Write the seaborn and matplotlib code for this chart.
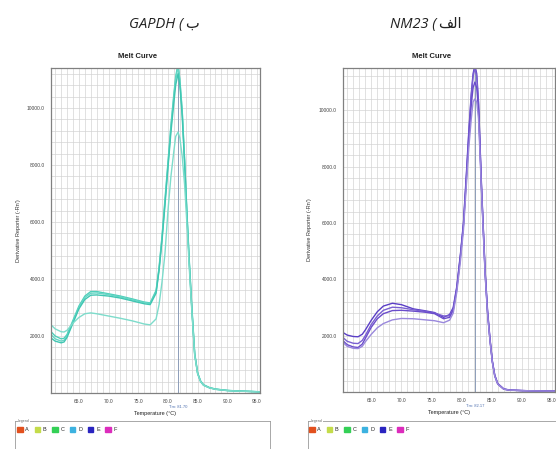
import matplotlib
matplotlib.use("Agg")
import matplotlib.pyplot as plt
import matplotlib.ticker as mticker
import matplotlib.transforms as mtransforms
from matplotlib.patches import Patch
import pandas as pd
import seaborn as sns

# GAPDH melt curve (left panel)
gapdh_temp = [60.3, 61, 62, 62.5, 63, 64, 65, 66, 67, 68, 70, 72, 74, 76, 77, 78, 78.5, 79, 79.5,
              80, 80.5, 81, 81.3, 81.7, 82.0, 82.4, 82.8, 83.2, 83.6, 84, 84.5, 85, 85.5, 86, 87,
              88, 90, 92, 95.5]
gapdh_w1 = [2150, 2000, 1900, 1920, 2050, 2550, 3050, 3400, 3560, 3560, 3480, 3400, 3300, 3190,
            3160, 3600, 4400, 5500, 6800, 8100, 9400, 10500, 11100, 11550, 11000, 9900, 8200,
            6300, 4600, 3100, 1400, 700, 420, 290, 190, 140, 90, 70, 40]
gapdh_w2 = [2050, 1900, 1820, 1850, 2000, 2500, 3000, 3350, 3500, 3510, 3450, 3370, 3270, 3170,
            3140, 3550, 4350, 5450, 6700, 8000, 9300, 10400, 11000, 11450, 10950, 9850, 8150,
            6250, 4550, 3050, 1380, 690, 410, 280, 185, 135, 90, 70, 45]
gapdh_w3 = [1930, 1820, 1760, 1790, 1950, 2450, 2950, 3280, 3430, 3440, 3400, 3330, 3230, 3130,
            3100, 3500, 4300, 5350, 6600, 7900, 9150, 10200, 10800, 11200, 10800, 9700, 8050,
            6200, 4500, 3000, 1350, 680, 400, 270, 180, 130, 85, 65, 40]
gapdh_w4 = [2390, 2250, 2150, 2140, 2200, 2450, 2650, 2780, 2810, 2780, 2700, 2620, 2530, 2420,
            2390, 2600, 3100, 3900, 4900, 6400, 7600, 8500, 9000, 9150, 8950, 8300, 7300,
            5900, 4350, 2950, 1330, 670, 400, 270, 180, 130, 85, 65, 40]

# NM23 melt curve (right panel)
nm23_temp = [60.3, 61, 62, 62.8, 63.5, 64, 65, 66, 67, 68.5, 70, 72, 74, 75.5, 77, 78, 78.6,
             79.2, 79.8, 80.3, 80.8, 81.2, 81.6, 81.9, 82.2, 82.5, 82.8, 83.3, 83.9, 84.3, 84.7,
             85.1, 85.5, 86, 87, 88, 90, 92, 95.5]
nm23_w1 = [2110, 2020, 1970, 1960, 2050, 2200, 2550, 2850, 3050, 3150, 3100, 2950, 2880, 2820,
           2650, 2750, 3000, 3750, 4900, 6000, 7800, 9300, 10600, 11300, 11600, 11300, 10300,
           7300, 4300, 2900, 1900, 1100, 600, 300, 110, 70, 50, 40, 30]
nm23_w2 = [1930, 1800, 1730, 1720, 1830, 2000, 2400, 2700, 2900, 3010, 2990, 2920, 2860, 2800,
           2700, 2700, 2950, 3700, 4850, 5950, 7700, 9200, 10500, 11200, 11500, 11200, 10200,
           7250, 4250, 2850, 1880, 1080, 580, 290, 100, 65, 50, 40, 30]
nm23_w3 = [1820, 1680, 1600, 1580, 1700, 1900, 2300, 2600, 2780, 2890, 2900, 2870, 2830, 2780,
           2600, 2650, 2900, 3650, 4800, 5900, 7600, 9000, 10200, 10800, 11000, 10800, 10000,
           7200, 4200, 2800, 1850, 1060, 570, 280, 100, 65, 50, 40, 30]
nm23_w4 = [1760, 1620, 1550, 1540, 1620, 1780, 2050, 2280, 2430, 2560, 2610, 2600, 2560, 2530,
           2460, 2550, 2800, 3550, 4650, 5750, 7400, 8700, 9700, 10300, 10400, 10300, 9700,
           7100, 4150, 2780, 1830, 1050, 560, 280, 100, 65, 50, 40, 30]

gapdh_tm = 81.70
nm23_tm = 82.17

legend_labels = ["A", "B", "C", "D", "E", "F"]
legend_colors = ["#e2501e", "#c4dc4a", "#34d056", "#3cb2e0", "#2a24c0", "#dc2cbc"]

gapdh_colors = ["#4fcfba", "#66d7c6", "#3fc6b2", "#7ddccb"]
nm23_colors = ["#5a3ec6", "#7a60d2", "#6a4ccb", "#9a88dc"]


def long_frame(temp, curves):
    rows = []
    for i, vals in enumerate(curves):
        for t, v in zip(temp, vals):
            rows.append({"temp": t, "value": v, "well": f"w{i + 1}"})
    return pd.DataFrame(rows)


def tick_fmt(v, pos):
    return "" if v == 0 else f"{v:.1f}"


def style_axis(ax, ymax, tm):
    ax.set_xlim(60.3, 95.5)
    ax.set_ylim(0, ymax)
    ax.xaxis.set_major_locator(mticker.MultipleLocator(5))
    ax.xaxis.set_minor_locator(mticker.MultipleLocator(1))
    ax.yaxis.set_major_locator(mticker.MultipleLocator(2000))
    ax.yaxis.set_minor_locator(mticker.MultipleLocator(400))
    ax.xaxis.set_major_formatter(mticker.FuncFormatter(tick_fmt))
    ax.yaxis.set_major_formatter(mticker.FuncFormatter(tick_fmt))
    ax.grid(which="both", color="#d4d4d4", linewidth=0.5)
    ax.set_axisbelow(True)
    for sp in ax.spines.values():
        sp.set_color("#808080")
        sp.set_linewidth(0.9)
    ax.tick_params(which="major", labelsize=3.5, labelcolor="#444444", color="#808080",
                   length=1.5, width=0.4, pad=3)
    ax.tick_params(which="minor", length=0)
    ax.axvline(tm, color="#8c9cb8", linewidth=0.7, zorder=1.5)
    trans = mtransforms.blended_transform_factory(ax.transData, ax.transAxes)
    ax.text(tm, -0.043, f"Tm: {tm:.2f}", transform=trans, ha="center", va="center",
            fontsize=3, color="#4f70b0")
    ax.set_xlabel("Temperature (°C)", fontsize=4, color="#222222")
    ax.xaxis.set_label_coords(0.5, -0.055)
    ax.set_ylabel("Derivative Reporter (-Rn')", fontsize=4, color="#333333")
    ax.yaxis.set_label_coords(-0.145, 0.5)


sns.set_theme(style="white")
plt.rcParams["font.family"] = ["Liberation Sans", "DejaVu Sans"]

fig = plt.figure(figsize=(5.56, 4.49), dpi=100)
fig.patch.set_facecolor("white")

ax_l = fig.add_axes([51 / 556, 1 - 393 / 449, 209 / 556, 325 / 449])
ax_r = fig.add_axes([343 / 556, 1 - 392 / 449, 212 / 556, 324 / 449])

panels = [
    (ax_l, long_frame(gapdh_temp, [gapdh_w1, gapdh_w2, gapdh_w3, gapdh_w4]), gapdh_colors, 11400, gapdh_tm),
    (ax_r, long_frame(nm23_temp, [nm23_w1, nm23_w2, nm23_w3, nm23_w4]), nm23_colors, 11500, nm23_tm),
]
for ax, df, cols, ymax, tm in panels:
    sns.lineplot(data=df, x="temp", y="value", hue="well", palette=cols, estimator=None,
                 sort=False, linewidth=1.0, legend=False, ax=ax)
    style_axis(ax, ymax, tm)

# panel titles
y_base = 1 - 28 / 449
fig.text(183 / 556, y_base, "GAPDH (", ha="right", va="baseline", fontsize=10.5,
         style="italic", family=["Open Sans", "DejaVu Sans"], color="#222222")
fig.text(185 / 556, y_base, "ب", ha="left", va="baseline", fontsize=10.5,
         family=["DejaVu Sans"], color="#222222")
fig.text(436 / 556, y_base, "NM23 (", ha="right", va="baseline", fontsize=10.5,
         style="italic", family=["Open Sans", "DejaVu Sans"], color="#222222")
fig.text(438 / 556, y_base, "\ufed2\ufedf\u0627", ha="left", va="baseline", fontsize=10.5,
         family=["DejaVu Sans"], color="#222222")

for cx in (138 / 556, 432 / 556):
    fig.text(cx, 1 - 57 / 449, "Melt Curve", ha="center", va="center", fontsize=5.5,
             weight="bold", color="#222222")

# legend boxes under the plots
handles = [Patch(facecolor=c, edgecolor=c) for c in legend_colors]
for left, width, sq_x in ((15, 255, 17), (308, 260, 309)):
    box = fig.add_axes([left / 556, -0.1, width / 556, 0.1 + 1 - 421 / 449])
    box.set_xticks([])
    box.set_yticks([])
    box.set_facecolor("white")
    for sp in box.spines.values():
        sp.set_color("#9a9a9a")
        sp.set_linewidth(0.6)
    box.text(0.012, 1.0, "Legend", transform=box.transAxes, fontsize=2.5, color="#666666",
             ha="left", va="center", bbox=dict(facecolor="white", edgecolor="none", pad=0.3))
    fig.legend(handles, legend_labels, loc="upper left",
               bbox_to_anchor=(sq_x / 556, 1 - 427 / 449), ncol=6, frameon=False,
               fontsize=4, handlelength=1.0, handleheight=1.0, handletextpad=0.5,
               columnspacing=1.0, borderpad=0, borderaxespad=0)

fig.savefig("out.png", dpi=100)
